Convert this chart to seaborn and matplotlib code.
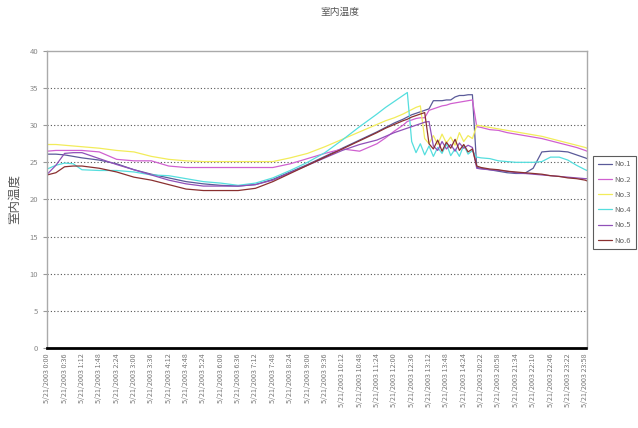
import matplotlib
matplotlib.use("Agg")
import matplotlib.pyplot as plt
import seaborn as sns
import pandas as pd

# sample positions in units of one tick-label interval
x_pos = [0, 0.5, 1, 1.5, 2,
         3, 4, 5, 6, 7, 8, 9, 10, 11, 12,
         13, 14, 15, 16, 17, 18, 19,
         19.5, 20, 20.5, 20.75,
         21, 21.25, 21.5, 21.75, 22, 22.25, 22.5, 22.75, 23, 23.25, 23.5, 23.75, 24, 24.25, 24.5,
         24.75, 25, 25.5, 26, 26.5, 27, 27.5, 28, 28.5, 29, 29.5, 30, 30.5, 31, 31.1]

no1 = [26.1, 26.1, 26.0, 25.8, 25.6,
       25.3, 24.8, 24.0, 23.4, 22.9, 22.4, 22.1, 21.9, 21.8, 22.0,
       22.7, 23.7, 24.7, 25.8, 26.9, 28.0, 29.1,
       29.7, 30.3, 30.8, 31.1,
       31.4, 31.6, 31.8, 32.0, 32.2, 33.3, 33.3, 33.3, 33.4, 33.4, 33.8, 34.0, 34.0, 34.1, 34.1,
       24.3, 24.2, 24.0, 23.8, 23.6, 23.5, 23.5, 24.2, 26.4, 26.5, 26.5, 26.4, 26.0, 25.6, 25.5]
no2 = [26.5, 26.6, 26.6, 26.6, 26.6,
       26.4, 25.4, 25.2, 25.2, 24.5, 24.3, 24.3, 24.3, 24.3, 24.3,
       24.3, 24.8, 25.5, 26.2, 26.8, 26.5, 27.5,
       28.3, 29.2, 30.0, 30.5,
       30.7, 30.9, 31.0, 31.0, 32.0, 32.2, 32.4, 32.6, 32.7, 32.9, 33.0, 33.1, 33.2, 33.3, 33.4,
       29.8, 29.7, 29.4, 29.3, 29.0, 28.8, 28.6, 28.4, 28.2, 27.9, 27.6, 27.3, 27.0, 26.6, 26.5]
no3 = [27.4, 27.4, 27.3, 27.2, 27.1,
       26.9, 26.6, 26.4, 25.8, 25.4, 25.2, 25.1, 25.1, 25.1, 25.1,
       25.1, 25.6, 26.2, 27.1, 28.1, 29.1, 30.1,
       30.6, 31.0, 31.5, 31.8,
       32.1, 32.4, 32.6, 28.2, 27.5, 28.6, 27.4, 28.8, 27.6, 28.4, 27.3, 29.0, 27.8, 28.6, 28.2,
       30.0, 29.9, 29.7, 29.5, 29.3, 29.1, 28.9, 28.7, 28.5, 28.2, 27.9, 27.6, 27.3, 27.0, 26.9]
no4 = [24.1, 24.6, 24.9, 24.8, 24.0,
       23.9, 23.9, 23.7, 23.3, 23.2, 22.8, 22.4, 22.2, 21.9, 22.2,
       22.9, 23.9, 25.0, 26.3, 28.0, 29.8, 31.5,
       32.4, 33.2, 34.0, 34.4,
       27.8, 26.3, 27.5, 26.0, 27.2, 25.8, 27.0, 26.2, 27.5, 25.9, 26.8, 25.8, 27.3, 26.1, 26.6,
       25.7, 25.6, 25.5, 25.2, 25.1, 25.0, 25.0, 25.0, 25.1, 25.7, 25.7, 25.3, 24.6, 24.0, 23.9]
no5 = [23.4, 24.6, 26.2, 26.3, 26.3,
       25.5, 24.7, 24.0, 23.3, 22.6, 22.1, 21.8, 21.8, 21.8, 22.0,
       22.6, 23.6, 24.6, 25.6, 26.6, 27.4, 28.0,
       28.5, 29.0, 29.4, 29.6,
       29.8, 30.0, 30.2, 30.4, 30.5, 27.2, 26.6, 27.8, 26.8, 27.4, 26.5, 27.6, 26.9, 27.3, 27.0,
       24.2, 24.1, 24.0, 23.9, 23.8, 23.6, 23.5, 23.4, 23.3, 23.2, 23.1, 23.0, 22.9, 22.8, 22.8]
no6 = [23.3, 23.6, 24.4, 24.5, 24.5,
       24.2, 23.7, 23.0, 22.6, 22.0, 21.4, 21.2, 21.2, 21.2, 21.5,
       22.4, 23.5, 24.6, 25.7, 26.8, 27.9, 29.0,
       29.6, 30.1, 30.6, 30.8,
       31.1, 31.3, 31.5, 31.7, 27.5, 26.8, 28.0, 26.5, 27.7, 26.9, 28.1, 26.6, 27.4, 26.4, 26.8,
       24.5, 24.3, 24.1, 24.0, 23.8, 23.7, 23.6, 23.5, 23.4, 23.2, 23.1, 22.9, 22.8, 22.6, 22.5]

series_names = ["No.1", "No.2", "No.3", "No.4", "No.5", "No.6"]
colors = ["#5a5a99", "#d060d0", "#f2ec5a", "#55dede", "#9050b8", "#8a3030"]

tick_times = ["0:00", "0:36", "1:12", "1:48", "2:24", "3:00", "3:36", "4:12",
              "4:48", "5:24", "6:00", "6:36", "7:12", "7:48", "8:24", "9:00",
              "9:36", "10:12", "10:48", "11:24", "12:00", "12:36", "13:12", "13:48",
              "14:24", "20:22", "20:58", "21:34", "22:10", "22:46", "23:22", "23:58"]
tick_labels = ["5/21/2003 " + t for t in tick_times]

rows = []
for name, vals in zip(series_names, [no1, no2, no3, no4, no5, no6]):
    for xv, yv in zip(x_pos, vals):
        rows.append({"pos": xv, "temp": yv, "series": name})
df = pd.DataFrame(rows)

sns.set_style("white")
plt.rcParams["font.family"] = ["Noto Sans CJK JP", "DejaVu Sans"]

fig = plt.figure(figsize=(6.38, 4.28), dpi=100)
ax = fig.add_axes([0.074, 0.187, 0.846, 0.694])

sns.lineplot(data=df, x="pos", y="temp", hue="series", palette=colors,
             estimator=None, sort=True, linewidth=0.9, ax=ax)

ax.set_xlim(0, 31.1)
ax.set_ylim(0, 40)
ax.set_yticks(range(0, 41, 5))
ax.set_xticks(range(len(tick_labels)))
ax.set_xticklabels(tick_labels, rotation=90, fontsize=5.2, color="#777777")
ax.tick_params(axis="y", labelsize=5.5, labelcolor="#888888", length=3,
               color="#999999", direction="out", left=True)
ax.tick_params(axis="x", length=0, pad=4)

for v in range(5, 40, 5):
    ax.axhline(v, color="#555555", linewidth=0.8, linestyle=(0, (1, 2)), zorder=0)

for side in ["top", "right", "left"]:
    ax.spines[side].set_color("#aaaaaa")
    ax.spines[side].set_linewidth(1.0)
ax.spines["bottom"].set_color("black")
ax.spines["bottom"].set_linewidth(2.0)
ax.spines["bottom"].set_linestyle((0, (2, 1)))

ax.set_xlabel("")
ax.set_ylabel("室内温度", fontsize=9, color="#555555", labelpad=6)
fig.text(0.533, 0.972, "室内温度", ha="center", va="center", fontsize=7, color="#555555")

handles, labels = ax.get_legend_handles_labels()
ax.get_legend().remove()
leg = fig.legend(handles, labels, loc="upper left", bbox_to_anchor=(0.930, 0.636),
                 fontsize=5.5, frameon=True, fancybox=False, edgecolor="#333333",
                 handlelength=1.8, handletextpad=0.4, labelspacing=0.95,
                 borderpad=0.6, borderaxespad=0.0)
leg.get_frame().set_linewidth(0.8)
for t in leg.get_texts():
    t.set_color("#666666")

fig.savefig("out.png", dpi=100)
